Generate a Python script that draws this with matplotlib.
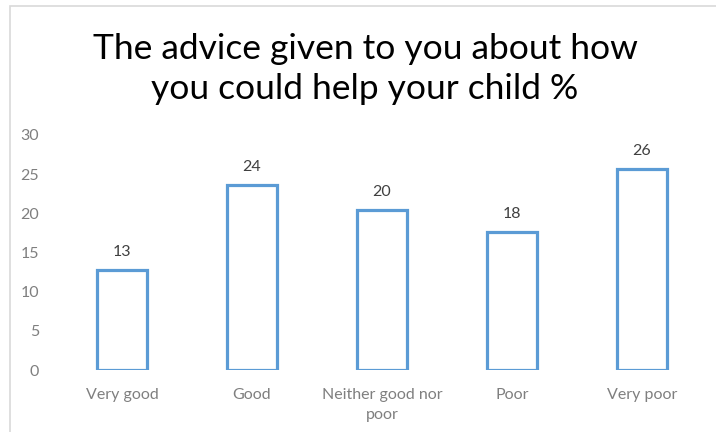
import matplotlib
matplotlib.use("Agg")
import matplotlib.pyplot as plt
from matplotlib.patches import Rectangle

categories = ["Very good", "Good", "Neither good nor\npoor", "Poor", "Very poor"]
values = [12.8, 23.6, 20.4, 17.6, 25.7]
value_labels = ["13", "24", "20", "18", "26"]
yticks = [0, 5, 10, 15, 20, 25, 30]
title = "The advice given to you about how\nyou could help your child %"

plt.rcParams['font.family'] = ['Lato', 'DejaVu Sans']

fig = plt.figure(figsize=(7.16, 4.32), dpi=100)
fig.patch.set_facecolor("white")
fig.patches.append(Rectangle((10/716, -0.1), 1.2, 1 - 6/432 + 0.1, transform=fig.transFigure,
                             fill=False, edgecolor="#D9D9D9", linewidth=1.2))

ax = fig.add_axes([57/716, 1 - 370/432, 650/716, 235/432])
x = range(len(categories))
ax.bar(x, values, width=0.377, facecolor="white", edgecolor="#5B9BD5", linewidth=2.3)
for xi, v, lab in zip(x, values, value_labels):
    ax.annotate(lab, (xi, v), xytext=(0, 8), textcoords="offset points",
                ha="center", va="bottom", fontsize=11.5, color="#404040")

ax.set_xlim(-0.5, len(categories) - 0.5)
ax.set_ylim(0, 30)
ax.set_yticks(yticks)
ax.set_xticks(list(x))
ax.set_xticklabels(categories, fontsize=11.5, color="#7F7F7F", linespacing=1.55)
ax.tick_params(axis="y", length=0, pad=13, labelsize=11.5, labelcolor="#7F7F7F")
ax.tick_params(axis="x", length=0, pad=13)
for s in ax.spines.values():
    s.set_visible(False)

fig.text(365/716, 1 - 69/432, title, ha="center", va="center", fontsize=25.5, color="black", linespacing=1.3)

fig.savefig("out.png", dpi=100)
